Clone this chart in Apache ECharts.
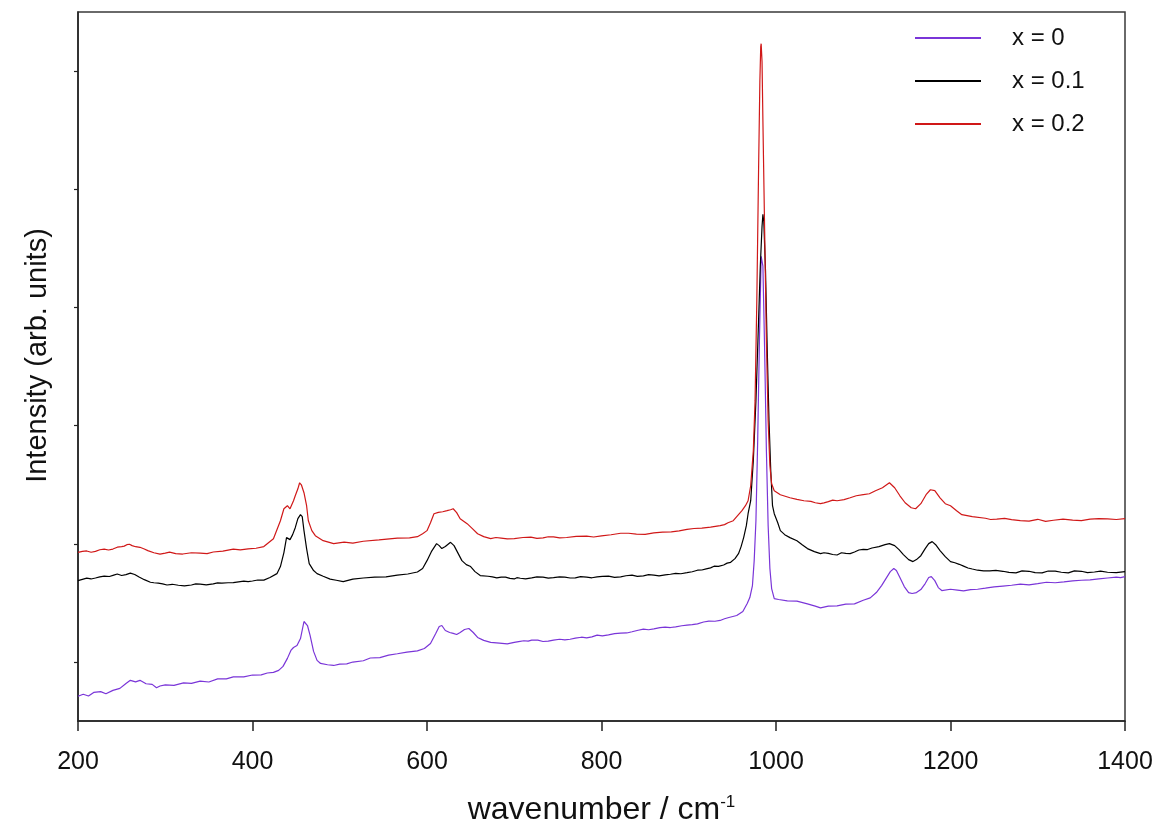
<!DOCTYPE html>
<html>
<head>
<meta charset="utf-8">
<script src="https://cdn.jsdelivr.net/npm/echarts@6/dist/echarts.min.js"></script>
<style>
html,body{margin:0;padding:0;background:#fff}
#c{width:1160px;height:840px}
</style>
</head>
<body>
<div id="c"></div>
<script>
// ---- data (intensity in arbitrary units) ----
const seriesNames = ['x = 0', 'x = 0.1', 'x = 0.2'];
const xTicks = [200, 400, 600, 800, 1000, 1200, 1400];
const yTickValues = [50, 150, 250, 350, 450, 550];

// x = 0 (main trace points)
const wavenumberX0 = [200,206,212,218,226,232,240,248,255,260,266,271,278,285,290,294,300,310,321,330,340,350,360,370,378,390,400,410,417,424,430,435,440,444,447,451,455,459,463,466,470,474,478,486,493,500,508,515,527,535,546,556,566,577,589,597,604,610,614,617,621,626,630,634,638,643,648,653,658,665,673,683,692,700,711,720,733,745,758,770,783,795,808,822,835,848,860,873,885,898,910,923,936,946,955,962,967,970,973,975,977,979,981,983,985,987,989,991,993,995,998,1003,1013,1024,1036,1045,1051,1060,1070,1080,1090,1100,1108,1115,1121,1126,1131,1135,1138,1142,1147,1152,1156,1161,1166,1171,1175,1178,1182,1186,1190,1200,1215,1231,1250,1270,1290,1310,1330,1350,1370,1390,1400];
const intensityX0 = [20.9,22.6,21.2,24.2,24.9,23.0,25.9,27.6,31.8,34.4,33.1,34.4,31.5,31.0,28.2,29.6,30.6,30.2,32.2,31.9,33.8,33.0,35.6,35.7,37.3,37.4,38.9,39.0,40.6,41.1,42.8,46.2,53.0,59.7,62.2,63.9,69.8,84.2,80.8,72.4,58.9,51.3,48.7,47.6,47.0,48.2,48.4,49.9,51.0,53.3,53.6,55.8,56.9,58.3,59.4,61.4,65.6,74.1,80.0,80.8,76.6,74.9,74.1,73.2,74.9,77.4,78.3,74.9,70.7,68.2,66.5,65.9,65.3,66.5,67.9,68.5,67.3,68.5,68.7,70.1,70.4,72.7,72.9,74.4,75.5,77.7,78.0,79.4,79.7,81.1,82.2,84.5,85.1,87.6,89.3,92.7,99.4,104.5,114.6,135.7,169.5,237.1,321.5,393.3,384.9,313.1,228.6,165.3,129.0,112.1,103.6,102.8,101.6,101.4,99.1,97.2,95.7,97.2,97.4,98.9,99.1,102.2,104.2,108.7,114.6,120.5,126.4,129.0,127.3,121.4,113.8,108.7,107.9,108.7,111.2,116.3,121.4,122.2,118.8,112.9,110.4,111.5,110.1,111.5,113.5,114.9,115.2,117.4,117.7,119.1,120.2,121.7,122.2];
// x = 0 (extra noise points on the baselines)
const wavenumberX0b = [705,716,727,739,752,764,777,789,801,815,829,842,854,867,879,892,904,917,930,941,1208,1223,1240,1260,1280,1300,1320,1340,1360,1380,1395];
const intensityX0b = [67.2,67.6,68.4,67.6,69.2,69.2,70.9,71.2,72.0,73.9,74.5,76.8,77.2,79.0,79.1,80.6,81.5,83.8,84.4,86.5,110.8,111.2,112.4,114.2,115.8,116.2,117.0,118.6,119.4,121.0,121.4];

// x = 0.1
const wavenumberX01 = [200,210,220,230,241,250,260,270,283,292,302,315,330,340,355,365,378,390,400,413,420,428,432,436,439,443,446,449,452,455,457,459,462,465,470,474,481,489,496,504,515,527,540,553,566,578,589,595,600,605,611,614,617,621,627,631,634,640,645,650,655,661,670,680,690,700,707,720,733,745,758,770,783,795,808,822,835,848,860,873,885,898,910,920,929,940,948,953,957,960,963,966,968,971,974,977,980,982,984,985,986,988,990,992,994,996,998,1002,1005,1010,1016,1024,1030,1036,1044,1051,1060,1070,1080,1090,1100,1110,1118,1125,1130,1136,1141,1146,1152,1157,1161,1166,1171,1175,1179,1183,1188,1194,1200,1210,1220,1231,1245,1260,1275,1290,1305,1320,1335,1350,1365,1380,1400];
const intensityX01 = [118.8,120.9,121.0,122.6,123.5,123.1,125.1,121.8,117.4,116.6,115.1,114.9,115.1,115.8,116.0,116.7,117.1,118.3,118.5,119.2,121.4,124.7,130.7,142.5,155.2,153.5,157.7,163.6,171.2,174.6,172.9,161.1,145.9,133.2,127.3,124.7,122.5,120.1,119.1,117.9,120.0,121.0,121.8,121.9,123.4,124.4,126.1,129.0,135.7,143.3,150.1,148.4,145.9,147.6,151.2,148.4,144.2,135.7,132.3,130.7,126.4,123.1,122.5,121.1,121.7,120.2,120.8,121.1,121.7,121.3,121.7,121.1,121.8,121.9,122.6,121.9,123.4,122.8,123.4,123.6,125.0,125.5,127.6,128.7,131.0,132.0,134.3,137.4,141.6,147.6,155.4,165.3,175.4,186.4,220.2,270.9,338.4,384.9,418.7,428.8,422.9,380.7,313.1,254.0,211.7,182.2,175.4,167.8,161.1,157.7,155.2,152.6,149.2,145.9,143.3,141.6,141.9,140.5,141.9,143.0,145.3,146.4,147.6,149.2,150.1,148.4,145.0,140.8,136.6,134.9,136.6,139.9,145.9,150.1,151.8,149.2,144.2,139.1,134.9,132.6,129.5,127.6,127.0,126.7,125.3,126.7,125.3,126.8,125.3,126.7,126.1,125.9,126.4];
const wavenumberX01b = [205,215,225,236,245,255,265,276,287,297,308,322,335,347,360,372,384,395,406,675,685,695,703,713,726,739,752,764,776,789,801,815,828,841,854,866,879,891,904,915,925,934,944,1055,1065,1075,1085,1095,1105,1205,1215,1225,1238,1252,1267,1282,1297,1312,1327,1342,1357,1372,1390];
const intensityX01b = [119.9,120.2,122.0,122.3,124.4,123.9,124.0,119.6,117.0,116.1,115.7,114.3,116.0,115.2,116.9,117.0,117.8,118.0,119.3,121.9,121.8,120.7,121.3,120.3,121.9,120.9,122.0,121.0,122.2,121.2,122.4,121.5,122.9,122.4,123.8,122.8,124.2,124.6,126.3,127.8,129.6,130.8,133.6,142.4,140.9,142.4,141.6,144.7,145.1,133.9,131.1,128.6,127.0,127.5,125.8,127.0,125.6,126.9,125.9,127.1,125.6,126.9,125.5];

// x = 0.2
const wavenumberX02 = [200,210,220,230,240,250,256,262,271,280,294,305,320,340,355,378,395,413,424,432,436,440,443,447,449,452,454,456,459,462,464,468,472,481,493,505,515,527,545,566,580,589,595,600,604,608,613,618,623,627,630,634,638,646,652,658,665,673,685,700,719,733,745,760,783,800,822,840,860,880,898,915,936,945,951,957,961,965,968,971,974,976,978,980,981.5,982.5,983,984,985,987,989,991,993,995,998,1005,1016,1032,1045,1051,1060,1070,1085,1100,1114,1122,1130,1136,1142,1148,1155,1160,1166,1172,1177,1182,1188,1194,1200,1207,1213,1225,1240,1253,1270,1290,1318,1340,1360,1380,1400];
const intensityX02 = [142.7,143.9,143.6,145.4,145.5,147.6,149.2,148.4,147.0,144.2,141.2,142.9,141.3,142.0,143.0,145.4,145.6,147.6,154.3,169.5,179.6,182.2,179.6,186.4,190.6,196.5,201.6,199.9,193.2,182.2,169.5,161.1,156.8,152.6,150.1,151.3,150.5,152.1,153.2,154.7,154.9,156.0,158.5,161.1,167.8,175.4,176.5,177.1,178.0,178.8,179.6,176.3,171.2,167.0,162.8,158.5,156.0,154.3,154.8,154.4,155.6,154.9,155.8,155.3,156.4,156.6,158.9,158.2,159.2,160.0,162.2,163.3,165.3,167.8,169.5,174.6,178.0,182.2,186.4,199.1,228.6,270.9,355.3,465.1,541.1,570.7,573.2,558.0,507.4,414.4,321.5,254.0,216.0,200.8,194.9,191.5,188.9,186.4,184.7,183.9,185.6,186.4,188.9,191.5,194.9,197.4,201.6,197.4,190.6,184.7,180.5,179.6,183.9,191.5,195.7,194.9,188.9,183.9,182.2,178.0,174.6,172.9,171.6,170.8,170.4,169.1,169.9,170.0,170.8,171.0,171.2];
const wavenumberX02b = [205,215,225,235,245,253,259,266,276,287,300,312,330,348,366,386,404,679,692,710,726,739,752,771,791,811,831,850,870,889,906,925,941,1024,1040,1055,1065,1078,1092,1107,1246,1262,1280,1300,1309,1329,1350,1370,1390];
const intensityX02b = [143.5,142.8,144.9,144.7,147.1,148.0,149.6,147.5,145.6,142.4,142.0,141.6,142.4,141.7,143.7,144.8,146.2,155.3,154.1,155.3,154.5,155.9,155.0,156.3,155.7,157.6,158.9,158.0,159.8,160.9,162.9,164.0,166.2,187.6,185.8,184.6,186.9,187.3,190.6,192.3,170.5,171.5,169.5,170.7,169.0,170.8,169.6,171.3,170.5];

// ---- chart ----
const FONT = '"Liberation Sans", Arial, sans-serif';
function pairs(w, v, wb, vb) {
  return w.concat(wb).map((x, i) => [x, v.concat(vb)[i]]).sort((a, b) => a[0] - b[0]);
}
const colors = ['#7a35d8', '#000000', '#d01818'];
const seriesData = [
  pairs(wavenumberX0, intensityX0, wavenumberX0b, intensityX0b),
  pairs(wavenumberX01, intensityX01, wavenumberX01b, intensityX01b),
  pairs(wavenumberX02, intensityX02, wavenumberX02b, intensityX02b)
];

const chart = echarts.init(document.getElementById('c'), null, { renderer: 'canvas' });
chart.setOption({
  animation: false,
  backgroundColor: '#ffffff',
  grid: { left: 78, right: 35, top: 12, bottom: 119, show: true, borderColor: '#3a3a3a', borderWidth: 1.5, backgroundColor: 'transparent' },
  legend: {
    orient: 'vertical', left: 910, top: 21, itemWidth: 66, itemHeight: 2, itemGap: 19,
    icon: 'rect',
    data: seriesNames,
    textStyle: { fontSize: 24, fontFamily: FONT, color: '#111', padding: [0, 0, 0, 26] }
  },
  xAxis: {
    type: 'value', min: xTicks[0], max: xTicks[xTicks.length - 1], interval: 200,
    axisLine: { lineStyle: { color: '#222', width: 1.5 } },
    axisTick: { length: 10, lineStyle: { color: '#222', width: 1.5 } },
    axisLabel: { fontSize: 25, color: '#111', fontFamily: FONT, margin: 29, formatter: v => String(v) },
    splitLine: { show: false },
    name: 'wavenumber / cm{sup|-1}', nameLocation: 'middle', nameGap: 73,
    nameTextStyle: { fontSize: 32, color: '#111', fontFamily: FONT,
      rich: { sup: { fontSize: 17, color: '#111', fontFamily: FONT, verticalAlign: 'top', lineHeight: 14 } } }
  },
  yAxis: {
    type: 'value', min: 0, max: 600,
    axisLine: { show: true, lineStyle: { color: '#222', width: 1.5 } },
    axisTick: { show: true, length: 4, customValues: yTickValues, lineStyle: { color: '#222', width: 1.2 } },
    axisLabel: { show: false },
    splitLine: { show: false },
    name: 'Intensity (arb. units)', nameLocation: 'middle', nameGap: 26,
    nameTextStyle: { fontSize: 29, color: '#111', fontFamily: FONT, padding: [0, 0, 0, 22] }
  },
  series: seriesNames.map((n, k) => ({
    name: n, type: 'line', data: seriesData[k],
    showSymbol: false, symbol: 'none', smooth: false,
    lineStyle: { width: 1.2, color: colors[k] }, itemStyle: { color: colors[k] },
    z: 2 + k
  }))
});
</script>
</body>
</html>
